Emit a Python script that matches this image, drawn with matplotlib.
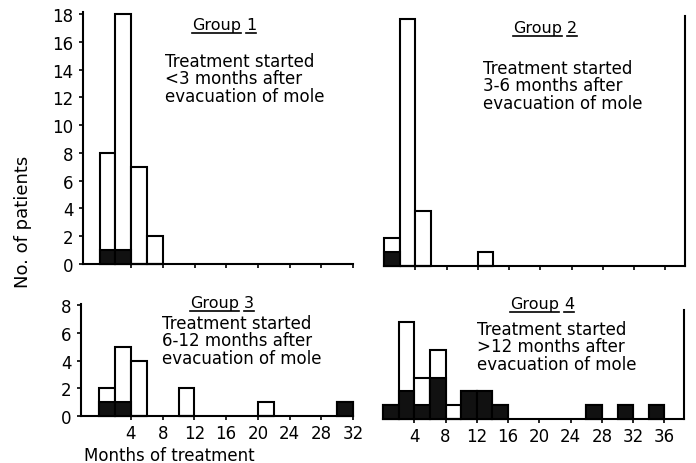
import numpy as np
import matplotlib.pyplot as plt
from matplotlib.lines import Line2D

# 2-month bins: left edge of each bar (months), all patients, patients shown in black
g1_left = [0, 2, 4, 6]
g1_total = [8, 18, 7, 2]
g1_black = [1, 1, 0, 0]

g2_left = [0, 2, 4, 12]
g2_total = [2, 18, 4, 1]
g2_black = [1, 0, 0, 0]

g3_left = [0, 2, 4, 10, 20, 30]
g3_total = [2, 5, 4, 2, 1, 1]
g3_black = [1, 1, 0, 0, 0, 1]

g4_left = [0, 2, 4, 6, 8, 10, 12, 14, 26, 30, 34]
g4_total = [1, 7, 3, 5, 1, 2, 2, 1, 1, 1, 1]
g4_black = [1, 2, 1, 3, 0, 2, 2, 1, 1, 1, 1]

ticks_left = [4, 8, 12, 16, 20, 24, 28, 32]
ticks_right = [4, 8, 12, 16, 20, 24, 28, 32, 36]
yticks_top = [0, 2, 4, 6, 8, 10, 12, 14, 16, 18]
yticks_bot = [0, 2, 4, 6, 8]

titles = ['1', '2', '3', '4']
notes = ['Treatment started\n<3 months after\nevacuation of mole',
         'Treatment started\n3-6 months after\nevacuation of mole',
         'Treatment started\n6-12 months after\nevacuation of mole',
         'Treatment started\n>12 months after\nevacuation of mole']

W, H = 696, 464
plt.rcParams['font.family'] = ['DejaVu Sans']
fig = plt.figure(figsize=(W / 100, H / 100), dpi=100)


def pxAxes(x0, x1, ytop, ybot):
    return fig.add_axes([x0 / W, 1 - ybot / H, (x1 - x0) / W, (ybot - ytop) / H])


def histPanel(ax, left, total, black, xlim, ylim, xticks, yticks, showx, side):
    ax.bar(left, total, width=2, align='edge', facecolor='white', edgecolor='black',
           linewidth=1.5, zorder=2, clip_on=False)
    ax.bar(left, black, width=2, align='edge', facecolor='#111111', edgecolor='black',
           linewidth=1.5, zorder=3, clip_on=False)
    ax.set_xlim(*xlim)
    ax.set_ylim(*ylim)
    ax.spines['top'].set_visible(False)
    for s in ['left', 'right', 'bottom']:
        ax.spines[s].set_linewidth(1.5)
    if side == 'left':
        ax.spines['right'].set_visible(False)
        ax.set_yticks(yticks)
        ax.tick_params(axis='y', length=3, width=1.2, pad=4, labelsize=12)
    else:
        ax.spines['left'].set_visible(False)
        ax.set_yticks([])
    ax.set_xticks(xticks)
    ax.tick_params(axis='x', length=3, width=1.2, pad=3, labelsize=12)
    if not showx:
        ax.set_xticklabels([])
    ax.patch.set_alpha(0)


ax1 = pxAxes(83, 353, 13, 265)
histPanel(ax1, g1_left, g1_total, g1_black, (-2.1, 32), (0, 18.15), ticks_left, yticks_top, False, 'left')
ax2 = pxAxes(384, 685, 17, 266.5)
histPanel(ax2, g2_left, g2_total, g2_black, (0, 38.5), (0, 18.2), ticks_right, [], False, 'right')
ax3 = pxAxes(81, 353, 305, 416.7)
histPanel(ax3, g3_left, g3_total, g3_black, (-2.3, 32), (0, 8.1), ticks_left, yticks_bot, True, 'left')
ax4 = pxAxes(383, 684, 311, 420)
histPanel(ax4, g4_left, g4_total, g4_black, (0, 38.5), (0, 7.9), ticks_right, [], True, 'right')

# group titles (underlined) and notes
fig.canvas.draw()
r = fig.canvas.get_renderer()
title_pos = [(192, 30), (513, 33), (190, 308), (510, 309)]
note_pos = [(165, 53), (483, 60), (162, 315), (477, 321)]
for i in range(4):
    x, y = title_pos[i]
    t1 = fig.text(x / W, 1 - y / H, 'Group', fontsize=11.5, va='baseline')
    b1 = t1.get_window_extent(r)
    t2 = fig.text((b1.x1 + 5) / W, 1 - y / H, titles[i], fontsize=11.5, va='baseline')
    b2 = t2.get_window_extent(r)
    for b in (b1, b2):
        fig.add_artist(Line2D([b.x0 / W, b.x1 / W], [(b.y0 - 1) / H] * 2, color='black', lw=1.2))
    nx, ny = note_pos[i]
    fig.text(nx / W, 1 - ny / H, notes[i], fontsize=12, va='top', ha='left', linespacing=0.95)

fig.text(23 / W, 1 - 222 / H, 'No. of patients', rotation=90, fontsize=13, ha='center', va='center')
fig.text(84 / W, 1 - 461 / H, 'Months of treatment', fontsize=12, ha='left', va='baseline')

fig.savefig('out.png', dpi=100)
